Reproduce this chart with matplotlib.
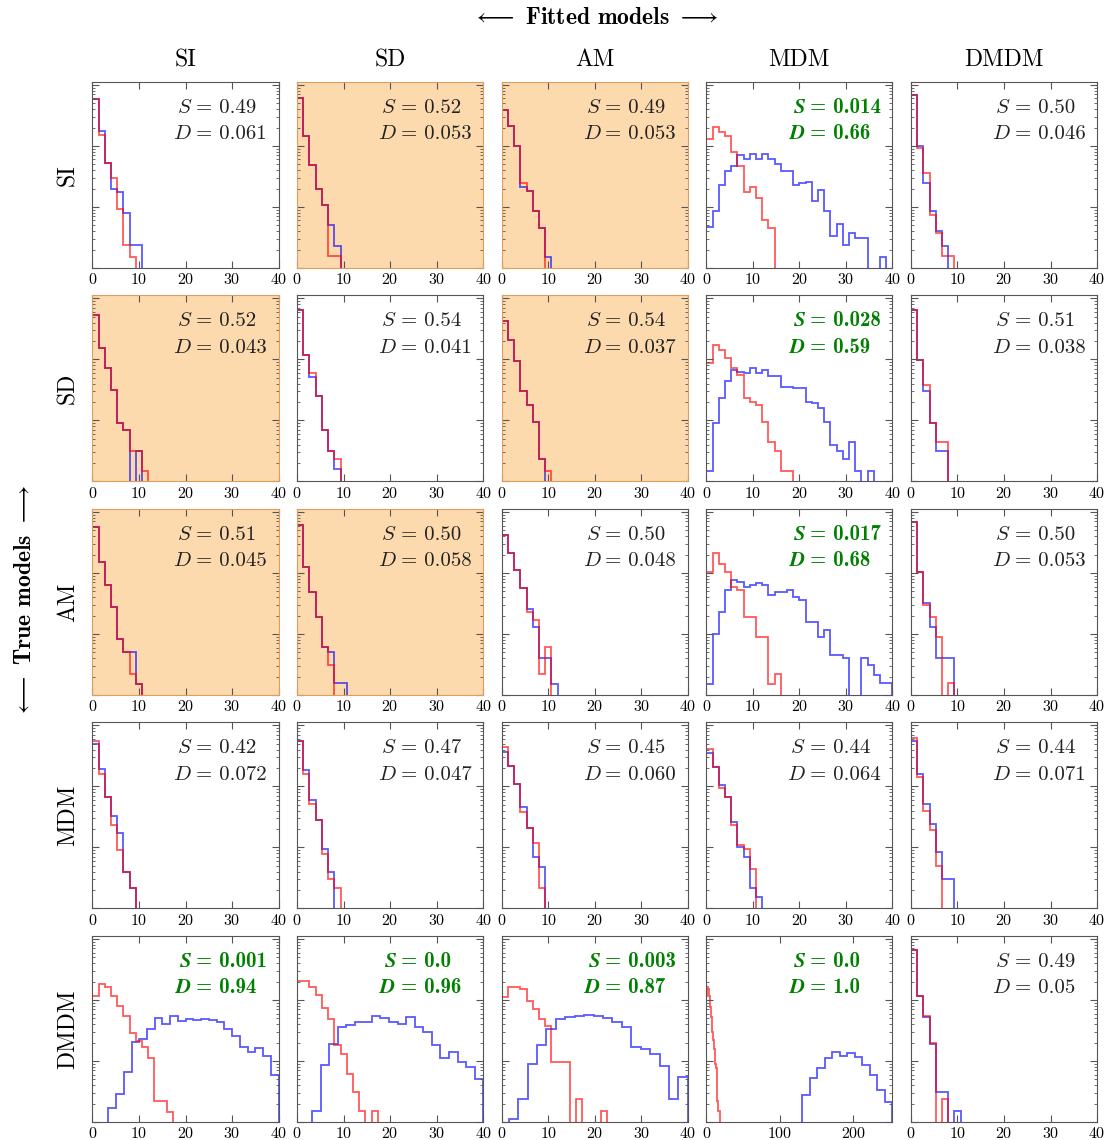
import numpy as np
import matplotlib
matplotlib.use("Agg")
import matplotlib.pyplot as plt
from matplotlib.ticker import NullFormatter, FixedLocator

plt.rcParams["font.family"] = "serif"
plt.rcParams["font.serif"] = ["cmr10"]
plt.rcParams["mathtext.fontset"] = "cm"
plt.rcParams["axes.formatter.use_mathtext"] = True

models = ["SI", "SD", "AM", "MDM", "DMDM"]

# histogram counts, one list per fitted model, one block per true model
red_SI = [
    [585, 154, 53, 30, 9.4, 2.4, 1.5],
    [615, 144, 49, 20, 10.9, 1.55, 1.55],
    [395, 210, 99, 25, 18, 8.5, 4.5],
    [128, 205, 170, 145, 79, 47, 17.7, 21, 14, 6.2, 4.6],
    [675, 93, 36, 7.4, 3.7, 1.55, 1.55],
]
blue_SI = [
    [585, 176, 53, 19.5, 17.6, 8.0, 2.35, 2.35],
    [615, 144, 49, 20, 10.9, 5.1, 2.3],
    [395, 210, 99, 21, 18, 8.5, 4.5, 1.5],
    [4.7, 8.6, 23, 39, 47, 70, 60, 75, 62, 73, 60, 51, 39, 39, 23, 25, 26,
     12.4, 19, 8.6, 3.3, 5.2, 2.4, 3.8, 3.1, 3.1, 0, 0, 1.5],
    [675, 98, 25, 8.5, 4, 2.3],
]
red_SD = [
    [540, 154, 72, 32, 9, 7, 3.1, 3.1, 1.5],
    [650, 119, 60, 25, 7, 3.1, 2.3],
    [420, 210, 93, 30, 18, 9.6, 2.3, 1.5],
    [87, 174, 144, 105, 72, 56, 23, 20, 18, 9.6, 4.5, 3.1, 1.5, 1.5],
    [650, 99, 38, 9, 4.5, 4.5],
]
blue_SD = [
    [540, 154, 72, 32, 9, 7, 0, 3.1],
    [650, 119, 52, 25, 7, 3.1, 1.6],
    [420, 210, 93, 30, 18, 9.6, 2.3],
    [1.5, 9, 23, 44, 68, 63, 60, 72, 60, 68, 53, 53, 36, 36, 34, 34, 20, 19,
     16, 9.6, 4, 3.1, 2.3, 4.5, 1.5, 0, 1.5],
    [650, 99, 30, 9, 3.1, 3.1],
]
red_AM = [
    [570, 150, 63, 28, 8.3, 5, 2.2, 1.5],
    [615, 126, 49, 19, 6.2, 3.1],
    [420, 210, 112, 56, 23, 17, 2.2, 6.2],
    [104, 210, 142, 104, 60, 52, 19, 19, 9, 9, 1.5, 2.2],
    [675, 104, 30, 19, 9, 0, 1.55],
]
blue_AM = [
    [570, 150, 63, 28, 8.3, 5, 5, 1.5],
    [615, 126, 49, 19, 6.2, 5, 1.55, 1.55],
    [420, 210, 112, 56, 26, 13, 4, 4, 1.5],
    [1.5, 10, 23, 52, 76, 72, 60, 63, 68, 63, 44, 48, 48, 52, 40, 36, 16, 16,
     9, 11.5, 4.5, 4.5, 4, 0, 0, 4, 3.1, 2.1, 1.55, 1.55],
    [675, 104, 32, 13, 4, 4, 4],
]
red_MDM = [
    [560, 162, 67, 23, 9, 4, 2.2],
    [560, 162, 52, 28, 7.8, 3.1, 2.2],
    [440, 220, 110, 38, 21, 12, 2.2],
    [415, 205, 93, 67, 23, 11, 9.5, 4.5],
    [620, 142, 40, 19, 5],
]
blue_MDM = [
    [490, 195, 67, 33, 17, 4, 2.2],
    [560, 185, 60, 28, 9.6, 4],
    [365, 220, 110, 46, 21, 7, 4.8],
    [355, 205, 104, 67, 26, 10, 6.9, 2.2, 1.55],
    [560, 160, 52, 24, 8.4, 3.1, 3.1],
]
red_DMDM = [
    [116, 185, 163, 116, 80, 55, 29, 21, 17, 11, 2.2, 2.2, 1.46],
    [208, 208, 165, 120, 75, 49, 18, 13, 6.1, 3.1, 1.5, 0, 1.5],
    [110, 162, 162, 152, 97, 71, 49, 38, 9.5, 9.5, 9.5, 0, 2.4, 0, 0, 0, 1.5],
    [118, 165, 150, 118, 78, 52, 30, 22, 16, 9, 7.8, 2.2, 1.5, 1.5],
    [670, 118, 55, 20, 0, 2.4],
]
blue_DMDM = [
    [1.7, 2.9, 6.6, 20.5, 23, 33, 50, 41, 55, 45, 49, 47, 48, 47, 44, 33, 26,
     17, 14, 16.5, 12, 5.9],
    [1.5, 8.6, 19, 36, 39, 43, 43, 55, 50, 43, 40, 52, 36, 30, 18, 11, 14,
     9.5, 7.9, 5.1],
    [1.1, 2.4, 8.9, 18, 33, 49, 52, 54, 57, 55, 50, 43, 36, 17, 16, 13, 8.3,
     2.4, 5.5],
    [2.8, 5.3, 7.8, 11.3, 14, 12, 13.4, 11.8, 8.6, 5.9, 3.3, 2.1],
    [670, 118, 52, 19, 3.1, 3.1, 0, 1.5],
]
# the wide-binned DMDM samples span their own range instead of 4/3-wide bins from 0
blue_DMDM_range = [(3.4, 40), (3.2, 40), (1.5, 40), (130.5, 253), None]

red_counts = [red_SI, red_SD, red_AM, red_MDM, red_DMDM]
blue_counts = [blue_SI, blue_SD, blue_AM, blue_MDM, blue_DMDM]
blue_ranges = [[None] * 5] * 4 + [blue_DMDM_range]

S_vals = [["0.49", "0.52", "0.49", "0.014", "0.50"],
          ["0.52", "0.54", "0.54", "0.028", "0.51"],
          ["0.51", "0.50", "0.50", "0.017", "0.50"],
          ["0.42", "0.47", "0.45", "0.44", "0.44"],
          ["0.001", "0.0", "0.003", "0.0", "0.49"]]
D_vals = [["0.061", "0.053", "0.053", "0.66", "0.046"],
          ["0.043", "0.041", "0.037", "0.59", "0.038"],
          ["0.045", "0.058", "0.048", "0.68", "0.053"],
          ["0.072", "0.047", "0.060", "0.064", "0.071"],
          ["0.94", "0.96", "0.87", "1.0", "0.05"]]
shaded = [(0, 1), (0, 2), (1, 0), (1, 2), (2, 0), (2, 1)]

bin_width = 4 / 3


def edges_for(counts, rng):
    if rng is None:
        return np.arange(len(counts) + 1) * bin_width
    return np.linspace(rng[0], rng[1], len(counts) + 1)


fig, axes = plt.subplots(5, 5, figsize=(11.06, 11.40), dpi=100)
fig.subplots_adjust(left=0.0836, right=0.9919, top=0.9281, bottom=0.0158,
                    wspace=0.0995, hspace=0.148)

for i in range(5):
    for j in range(5):
        ax = axes[i, j]
        rc = red_counts[i][j]
        bc = blue_counts[i][j]
        ax.stairs(bc, edges_for(bc, blue_ranges[i][j]), baseline=0,
                  color="blue", alpha=0.65, lw=1.3)
        ax.stairs(rc, edges_for(rc, None), baseline=0,
                  color="red", alpha=0.65, lw=1.3)
        ax.set_yscale("log")
        ax.set_ylim(1, 1120)
        if (i, j) == (4, 3):
            ax.set_xlim(0, 253)
            ax.xaxis.set_major_locator(FixedLocator([0, 100, 200]))
        else:
            ax.set_xlim(0, 40)
            ax.xaxis.set_major_locator(FixedLocator([0, 10, 20, 30, 40]))
        ax.yaxis.set_major_formatter(NullFormatter())
        ax.yaxis.set_minor_formatter(NullFormatter())
        ax.tick_params(which="both", direction="in", top=True, right=True,
                       labelsize=11.5, pad=3, color="#555555")
        ax.tick_params(which="major", length=5)
        ax.tick_params(which="minor", length=2.5)
        if (i, j) in shaded:
            ax.set_facecolor("#fdd9ae")
            for sp in ax.spines.values():
                sp.set_color("#d9a060")
        else:
            for sp in ax.spines.values():
                sp.set_color("#555555")

        # similarity / distance annotation, aligned on the equals sign
        s, d = S_vals[i][j], D_vals[i][j]
        if float(s) < 0.05:
            kw = dict(color="green", fontsize=15)
            rows = [(r"$\mathbfit{S}$", "= " + s), (r"$\mathbfit{D}$", "= " + d)]
            fam = "cmb10"
        else:
            kw = dict(color="#222222", fontsize=15)
            rows = [(r"$S$", "= " + s), (r"$D$", "= " + d)]
            fam = "cmr10"
        for (lhs, rhs), y in zip(rows, [0.835, 0.692]):
            ax.text(0.535, y, lhs, ha="right", va="baseline",
                    transform=ax.transAxes, **kw)
            ax.text(0.557, y, rhs, ha="left", va="baseline", family=fam,
                    transform=ax.transAxes, **kw)

for j, name in enumerate(models):
    pos = axes[0, j].get_position()
    fig.text((pos.x0 + pos.x1) / 2, 0.947, name, ha="center", va="center",
             fontsize=17)
for i, name in enumerate(models):
    pos = axes[i, 0].get_position()
    fig.text(0.0615, (pos.y0 + pos.y1) / 2, name, ha="center", va="center",
             rotation=90, fontsize=17)

fig.text(0.538, 0.984, r"$\longleftarrow$ Fitted models $\longrightarrow$",
         ha="center", va="center", fontsize=17, family="cmb10")
fig.text(0.0226, 0.472, r"$\longleftarrow$ True models $\longrightarrow$",
         ha="center", va="center", rotation=90, fontsize=17, family="cmb10")

fig.savefig("out.png", dpi=100)
